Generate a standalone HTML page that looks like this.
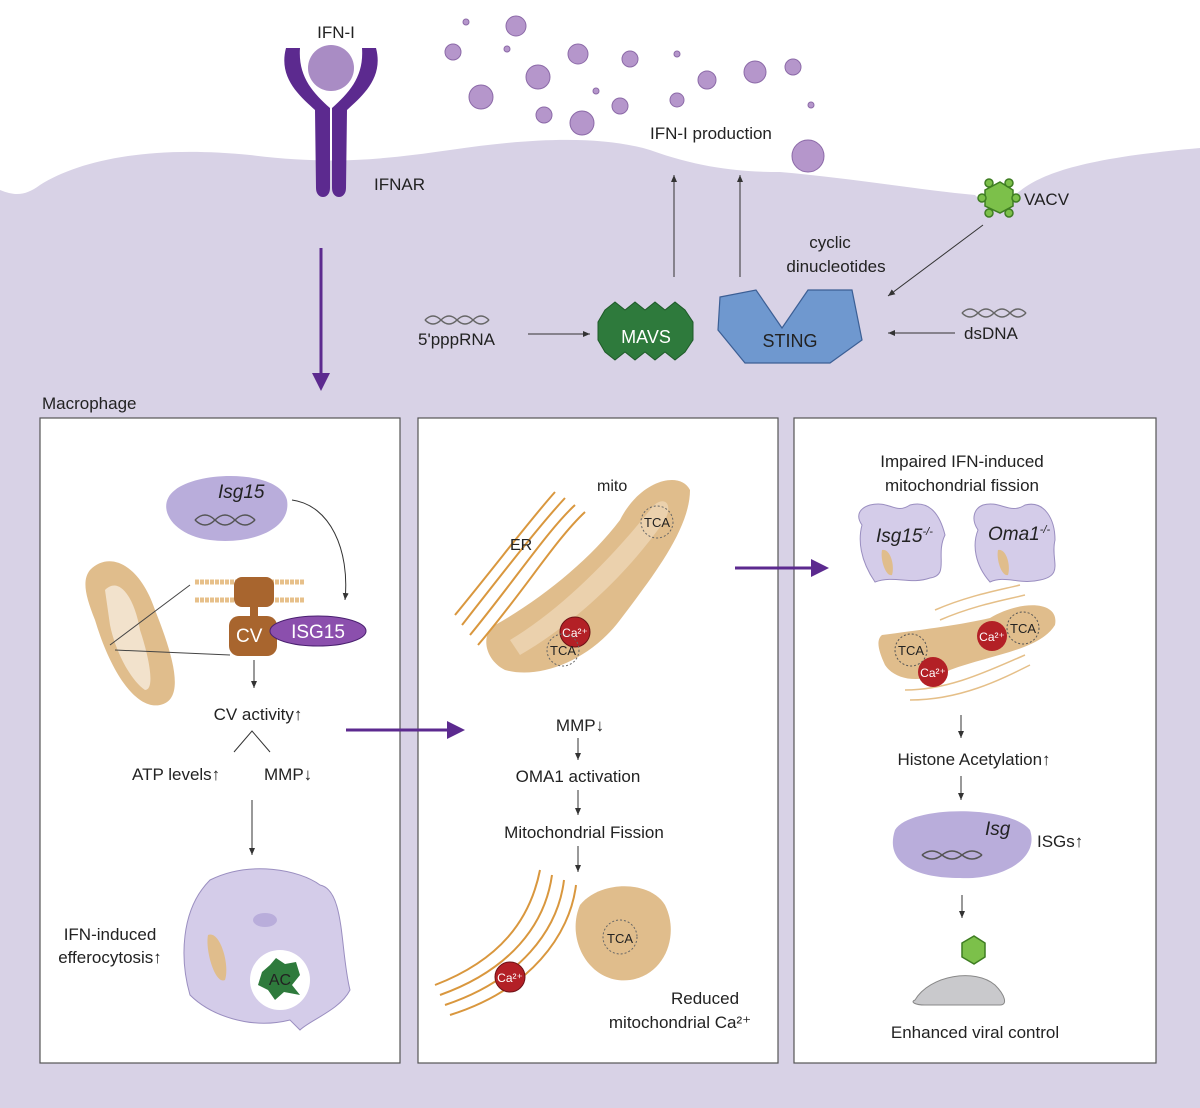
<!DOCTYPE html>
<html><head><style>html,body{margin:0;padding:0;background:#fff}svg{display:block}text{font-family:"Liberation Sans",sans-serif;fill:#222}</style></head><body>
<svg width="1200" height="1108" viewBox="0 0 1200 1108" xmlns="http://www.w3.org/2000/svg">
<defs><marker id="a" markerWidth="8" markerHeight="8" refX="7" refY="4" orient="auto"><path d="M0,1 L7,4 L0,7z" fill="#333"/></marker>
<marker id="p" markerWidth="6" markerHeight="6" refX="5" refY="3" orient="auto"><path d="M0,0 L6,3 L0,6z" fill="#5c2a8f"/></marker></defs>
<rect width="1200" height="1108" fill="#fff"/>
<path d="M0,190 C15,196 25,196 40,185 C80,160 150,145 250,155 C330,165 380,160 450,150 C530,138 600,135 650,150 C700,168 740,172 780,172 C850,178 920,190 975,195 L990,210 L1010,200 C1030,180 1060,160 1200,148 L1200,1108 L0,1108z" fill="#d8d2e6"/>
<g fill="#b596cb" stroke="#8c6aa8" stroke-width="1">
<circle cx="516" cy="26" r="10"/><circle cx="466" cy="22" r="3"/><circle cx="453" cy="52" r="8"/><circle cx="507" cy="49" r="3"/><circle cx="578" cy="54" r="10"/><circle cx="630" cy="59" r="8"/><circle cx="677" cy="54" r="3"/><circle cx="538" cy="77" r="12"/><circle cx="596" cy="91" r="3"/><circle cx="707" cy="80" r="9"/><circle cx="755" cy="72" r="11"/><circle cx="793" cy="67" r="8"/><circle cx="481" cy="97" r="12"/><circle cx="544" cy="115" r="8"/><circle cx="582" cy="123" r="12"/><circle cx="620" cy="106" r="8"/><circle cx="677" cy="100" r="7"/><circle cx="811" cy="105" r="3"/><circle cx="808" cy="156" r="16"/>
</g>
<text x="336" y="38" font-size="17" text-anchor="middle">IFN-I</text>
<circle cx="331" cy="68" r="23" fill="#a98cc4"/>
<path d="M286,48 C278,78 300,96 315,110 L316,188 C316,200 330,200 330,188 L330,108 C312,92 298,76 300,48z" fill="#5c2a8f"/>
<path d="M376,48 C384,78 362,96 347,110 L346,188 C346,200 332,200 332,188 L332,108 C350,92 364,76 362,48z" fill="#5c2a8f"/>
<text x="374" y="190" font-size="17">IFNAR</text>
<text x="650" y="139" font-size="17">IFN-I production</text>
<line x1="674" y1="277" x2="674" y2="175" stroke="#333" marker-end="url(#a)"/>
<line x1="740" y1="277" x2="740" y2="175" stroke="#333" marker-end="url(#a)"/>
<g fill="#7cc04a" stroke="#3e7d22" stroke-width="1.5"><polygon points="985,190 1000,182 1013,190 1013,206 1000,213 985,206"/><circle cx="989" cy="183" r="4"/><circle cx="1009" cy="183" r="4"/><circle cx="982" cy="198" r="4"/><circle cx="1016" cy="198" r="4"/><circle cx="989" cy="213" r="4"/><circle cx="1009" cy="213" r="4"/></g>
<text x="1024" y="205" font-size="17">VACV</text>
<line x1="983" y1="225" x2="888" y2="296" stroke="#333" marker-end="url(#a)"/>
<text x="830" y="248" font-size="17" text-anchor="middle">cyclic</text>
<text x="836" y="272" font-size="17" text-anchor="middle">dinucleotides</text>
<path d="M720,297 L756,290 L782,328 L808,290 L852,290 L862,340 L830,363 L745,363 L718,330z" fill="#6f98cf" stroke="#3c5f95" stroke-width="1.2"/>
<text x="790" y="347" font-size="18" text-anchor="middle">STING</text>
<polygon points="605,310 615,302 625,310 635,302 645,310 655,302 665,310 675,302 685,310 693,322 693,340 685,352 675,360 665,352 655,360 645,352 635,360 625,352 615,360 605,352 598,340 598,322" fill="#2e7a3c" stroke="#1e5a28"/>
<text x="646" y="343" font-size="18" text-anchor="middle" style="fill:#fff">MAVS</text>
<path d="M425,320 q8,-8 16,0 t16,0 t16,0 t16,0" fill="none" stroke="#666" stroke-width="1.5"/><path d="M425,320 q8,8 16,0 t16,0 t16,0 t16,0" fill="none" stroke="#666" stroke-width="1.5"/>
<text x="418" y="345" font-size="17">5'pppRNA</text>
<line x1="528" y1="334" x2="590" y2="334" stroke="#333" marker-end="url(#a)"/>
<path d="M962,313 q8,-8 16,0 t16,0 t16,0 t16,0" fill="none" stroke="#666" stroke-width="1.5"/><path d="M962,313 q8,8 16,0 t16,0 t16,0 t16,0" fill="none" stroke="#666" stroke-width="1.5"/>
<text x="964" y="339" font-size="17">dsDNA</text>
<line x1="955" y1="333" x2="888" y2="333" stroke="#333" marker-end="url(#a)"/>
<line x1="321" y1="248" x2="321" y2="388" stroke="#5c2a8f" stroke-width="3" marker-end="url(#p)"/>
<text x="42" y="409" font-size="17">Macrophage</text>
<rect x="40" y="418" width="360" height="645" fill="#fff" stroke="#555" stroke-width="1.2"/>
<rect x="418" y="418" width="360" height="645" fill="#fff" stroke="#555" stroke-width="1.2"/>
<rect x="794" y="418" width="362" height="645" fill="#fff" stroke="#555" stroke-width="1.2"/>
<path d="M175,490 C200,470 280,470 287,500 C292,530 250,545 210,540 C170,535 155,505 175,490z" fill="#b9addb"/>
<text x="218" y="498" font-size="19" font-style="italic">Isg15</text>
<path d="M195,520 q10,-10 20,0 t20,0 t20,0" fill="none" stroke="#555" stroke-width="1.5"/><path d="M195,520 q10,10 20,0 t20,0 t20,0" fill="none" stroke="#555" stroke-width="1.5"/>
<path d="M292,500 C330,505 350,550 345,600" fill="none" stroke="#333" marker-end="url(#a)"/>
<path d="M90,570 C110,550 140,565 155,610 C175,660 185,700 160,705 C135,710 110,670 95,620 C85,595 82,580 90,570z" fill="#e0bd8c"/>
<path d="M105,590 C120,575 135,600 140,630 C150,660 155,690 145,690 C130,680 115,650 110,625z" fill="#f2e2cc"/>
<line x1="110" y1="645" x2="190" y2="585" stroke="#444"/><line x1="115" y1="650" x2="230" y2="655" stroke="#444"/>
<line x1="195" y1="582" x2="305" y2="582" stroke="#e7c08a" stroke-width="5" stroke-dasharray="4,1"/><line x1="195" y1="600" x2="305" y2="600" stroke="#e7c08a" stroke-width="5" stroke-dasharray="4,1"/>
<rect x="234" y="577" width="40" height="30" rx="8" fill="#a8652e"/><rect x="250" y="605" width="8" height="15" fill="#a8652e"/>
<rect x="229" y="616" width="48" height="40" rx="10" fill="#a8652e"/>
<text x="236" y="642" font-size="19" style="fill:#fff">CV</text>
<ellipse cx="318" cy="631" rx="48" ry="15" fill="#8b4fad" stroke="#4a2070"/>
<text x="318" y="638" font-size="19" text-anchor="middle" style="fill:#fff">ISG15</text>
<line x1="254" y1="660" x2="254" y2="688" stroke="#333" marker-end="url(#a)"/>
<text x="258" y="720" font-size="17" text-anchor="middle">CV activity↑</text>
<path d="M234,752 L252,731 L270,752" fill="none" stroke="#333"/>
<text x="132" y="780" font-size="17">ATP levels↑</text><text x="264" y="780" font-size="17">MMP↓</text>
<line x1="252" y1="800" x2="252" y2="855" stroke="#333" marker-end="url(#a)"/>
<path d="M210,880 C250,860 300,870 320,885 C345,890 340,950 350,990 C340,1010 310,1020 300,1030 L290,1020 C250,1030 210,1015 190,995 C180,960 180,910 210,880z" fill="#d4cce9" stroke="#9a8ec0"/>
<ellipse cx="265" cy="920" rx="12" ry="7" fill="#b9addb"/>
<path d="M208,935 C220,930 230,965 225,980 C215,985 205,950 208,935z" fill="#e0bd8c"/>
<circle cx="280" cy="980" r="30" fill="#fff"/>
<polygon points="262,972 270,965 276,958 285,964 296,962 300,975 292,985 300,995 284,992 275,1000 268,990 258,985" fill="#2e7a3c"/>
<text x="280" y="985" font-size="16" text-anchor="middle">AC</text>
<text x="110" y="940" font-size="17" text-anchor="middle">IFN-induced</text><text x="110" y="963" font-size="17" text-anchor="middle">efferocytosis↑</text>
<line x1="346" y1="730" x2="462" y2="730" stroke="#5c2a8f" stroke-width="3" marker-end="url(#p)"/>
<path d="M495,625 C540,600 590,560 620,520 C640,480 680,470 690,490 C690,530 650,580 620,620 C590,660 540,680 505,670 C485,660 480,635 495,625z" fill="#e0bd8c"/>
<path d="M510,640 C560,610 610,560 650,510 C660,495 675,500 665,520 C630,570 580,620 520,655z" fill="#ebd1ad"/>
<g fill="none" stroke="#d9973e" stroke-width="2"><path d="M455,615 C500,560 530,520 555,492"/><path d="M462,625 C505,570 540,525 565,498"/><path d="M470,635 C515,580 548,530 575,505"/><path d="M478,645 C525,590 555,540 585,512"/></g>
<text x="510" y="550" font-size="16">ER</text><text x="597" y="491" font-size="16">mito</text>
<circle cx="575" cy="632" r="15" fill="#b32026" stroke="#6d1216"/><text x="575" y="637" font-size="12" text-anchor="middle" style="fill:#fff">Ca²⁺</text>
<circle cx="657" cy="522" r="16" fill="none" stroke="#666" stroke-dasharray="2,2"/><text x="657" y="527" font-size="13" text-anchor="middle">TCA</text>
<circle cx="563" cy="650" r="16" fill="none" stroke="#666" stroke-dasharray="2,2"/><text x="563" y="655" font-size="13" text-anchor="middle">TCA</text>
<text x="580" y="731" font-size="17" text-anchor="middle">MMP↓</text>
<line x1="578" y1="738" x2="578" y2="760" stroke="#333" marker-end="url(#a)"/>
<text x="578" y="782" font-size="17" text-anchor="middle">OMA1 activation</text>
<line x1="578" y1="790" x2="578" y2="815" stroke="#333" marker-end="url(#a)"/>
<text x="584" y="838" font-size="17" text-anchor="middle">Mitochondrial Fission</text>
<line x1="578" y1="846" x2="578" y2="872" stroke="#333" marker-end="url(#a)"/>
<g fill="none" stroke="#d9973e" stroke-width="2"><path d="M435,985 C500,960 530,920 540,870"/><path d="M440,995 C510,970 545,925 552,875"/><path d="M445,1005 C520,980 558,930 564,880"/><path d="M450,1015 C530,990 570,935 576,885"/></g>
<circle cx="510" cy="977" r="15" fill="#b32026" stroke="#6d1216"/><text x="510" y="982" font-size="12" text-anchor="middle" style="fill:#fff">Ca²⁺</text>
<path d="M580,905 C600,880 650,880 665,905 C680,935 665,975 630,980 C590,985 565,940 580,905z" fill="#e0bd8c"/>
<circle cx="620" cy="937" r="17" fill="none" stroke="#666" stroke-dasharray="2,2"/><text x="620" y="943" font-size="13" text-anchor="middle">TCA</text>
<text x="705" y="1004" font-size="17" text-anchor="middle">Reduced</text><text x="680" y="1028" font-size="17" text-anchor="middle">mitochondrial Ca²⁺</text>
<line x1="735" y1="568" x2="826" y2="568" stroke="#5c2a8f" stroke-width="3" marker-end="url(#p)"/>
<text x="962" y="467" font-size="17" text-anchor="middle">Impaired IFN-induced</text><text x="962" y="491" font-size="17" text-anchor="middle">mitochondrial fission</text>
<path d="M870,505 C890,500 895,515 910,505 C930,500 940,515 945,535 C935,555 950,575 930,578 C910,585 895,575 875,582 C860,560 858,540 862,525 C855,515 860,508 870,505z" fill="#d4cce9" stroke="#9a8ec0"/>
<path d="M983,505 C1000,500 1010,515 1025,505 C1045,500 1055,520 1055,540 C1050,560 1065,575 1040,580 C1020,585 1005,575 990,582 C975,565 972,545 978,530 C970,518 975,508 983,505z" fill="#d4cce9" stroke="#9a8ec0"/>
<text x="876" y="542" font-size="19" font-style="italic">Isg15<tspan font-size="11" dy="-7">-/-</tspan></text>
<text x="988" y="540" font-size="19" font-style="italic">Oma1<tspan font-size="11" dy="-7">-/-</tspan></text>
<path d="M882,550 C890,548 895,565 892,575 C886,577 880,560 882,550z" fill="#e0bd8c"/><path d="M998,550 C1006,548 1011,565 1008,575 C1002,577 996,560 998,550z" fill="#e0bd8c"/>
<path d="M882,635 C920,630 960,625 990,618 C1020,600 1060,600 1055,625 C1040,650 990,655 950,670 C920,685 895,680 885,665 C878,650 876,640 882,635z" fill="#e0bd8c"/>
<g fill="none" stroke="#e5bf88" stroke-width="1.5"><path d="M935,610 C970,595 1000,590 1020,585"/><path d="M940,620 C975,605 1005,600 1025,595"/><path d="M905,690 C950,690 990,670 1025,655"/><path d="M910,700 C960,700 1000,680 1030,665"/></g>
<circle cx="911" cy="650" r="16" fill="none" stroke="#555" stroke-dasharray="2,2"/><text x="911" y="655" font-size="13" text-anchor="middle">TCA</text>
<circle cx="1023" cy="628" r="16" fill="none" stroke="#555" stroke-dasharray="2,2"/><text x="1023" y="633" font-size="13" text-anchor="middle">TCA</text>
<circle cx="933" cy="672" r="15" fill="#b32026"/><text x="933" y="677" font-size="12" text-anchor="middle" style="fill:#fff">Ca²⁺</text>
<circle cx="992" cy="636" r="15" fill="#b32026"/><text x="992" y="641" font-size="12" text-anchor="middle" style="fill:#fff">Ca²⁺</text>
<line x1="961" y1="715" x2="961" y2="738" stroke="#333" marker-end="url(#a)"/>
<text x="974" y="765" font-size="17" text-anchor="middle">Histone Acetylation↑</text>
<line x1="961" y1="776" x2="961" y2="800" stroke="#333" marker-end="url(#a)"/>
<path d="M895,830 C910,805 1010,805 1030,830 C1040,860 1000,880 960,878 C910,878 885,860 895,830z" fill="#b9addb"/>
<text x="985" y="835" font-size="19" font-style="italic">Isg</text>
<path d="M922,855 q10,-8 20,0 t20,0 t20,0" fill="none" stroke="#555" stroke-width="1.5"/><path d="M922,855 q10,8 20,0 t20,0 t20,0" fill="none" stroke="#555" stroke-width="1.5"/>
<text x="1037" y="847" font-size="17">ISGs↑</text>
<line x1="962" y1="895" x2="962" y2="918" stroke="#333" marker-end="url(#a)"/>
<g fill="#7cc04a" stroke="#3e7d22" stroke-width="1.5"><polygon points="962,943 974,936 985,943 985,957 974,964 962,957"/></g>
<path d="M915,1000 C930,975 975,968 995,985 C1005,995 1008,1005 1000,1005 L925,1005 C915,1005 910,1002 915,1000z" fill="#c9c9cc" stroke="#888"/>
<text x="975" y="1038" font-size="17" text-anchor="middle">Enhanced viral control</text>
</svg>
</body></html>
